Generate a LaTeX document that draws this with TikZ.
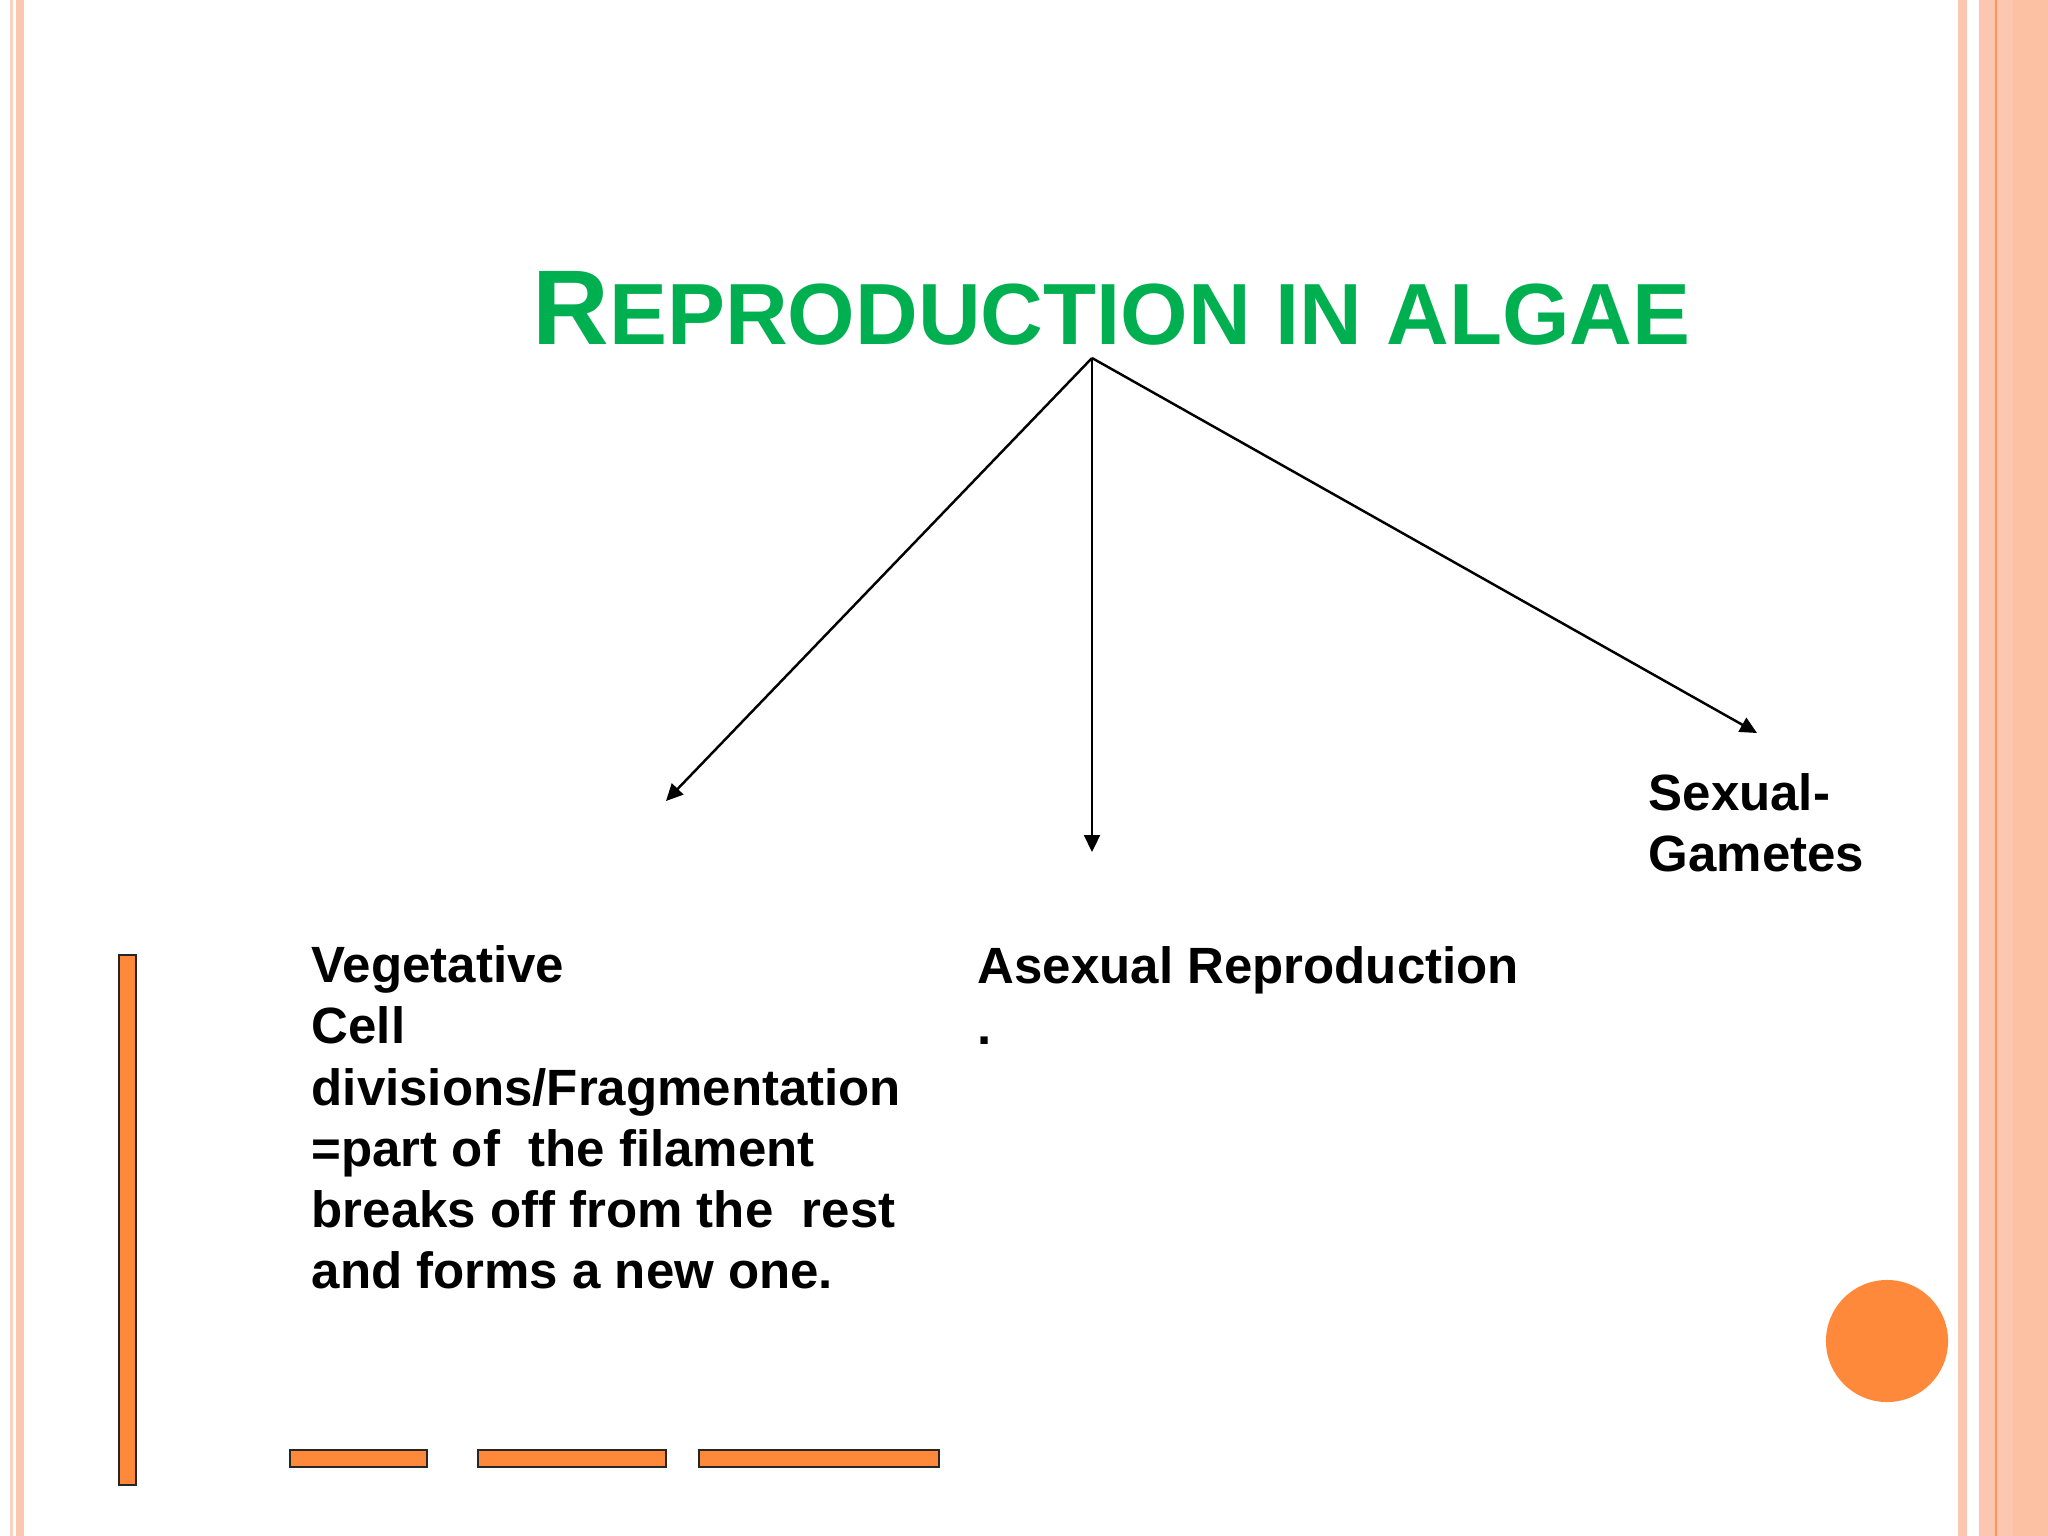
\documentclass[tikz,border=0pt]{standalone}
\usepackage{fontspec}
\setmainfont{Liberation Sans}
\usepackage{xcolor}
\usetikzlibrary{arrows.meta,positioning}
\definecolor{verde}{HTML}{00B050}
\definecolor{naranja}{HTML}{FF893A}
\definecolor{rosa}{HTML}{FCC6B0}
\definecolor{rosaclaro}{HTML}{F9D2C4}
\tikzset{
  barra/.style={fill=naranja,draw=black!85,line width=0.5pt},
  franja/.style={fill=rosa,draw=none},
  flecha/.style={-{Triangle[length=4.8pt,width=4.5pt]},line width=0.7pt},
  texto/.style={font=\fontsize{14.5}{17.4}\selectfont\bfseries,align=left,anchor=north west,inner sep=0pt},
  titulo/.style={font=\fontsize{24.7}{24.7}\selectfont\bfseries,text=verde,anchor=base west,inner sep=0pt}
}
\begin{document}
\begin{tikzpicture}[x=0.01cm,y=-0.01cm]
\useasboundingbox (0,0) rectangle (2048,1536);
\fill[white] (0,0) rectangle (2048,1536);
% bordes
\fill[rosaclaro] (10,0) rectangle (13,1536);
\fill[rosa] (16,0) rectangle (24,1536);
\fill[rosa] (1958,0) rectangle (1967,1536);
\fill[rosa] (1979,0) rectangle (2048,1536);
\fill[rosa!92!orange] (2013,0) rectangle (2048,1536);
\fill[naranja!80!rosa] (1995,0) rectangle (1997,1536);
% adornos
\draw[barra] (119,955) rectangle (136,1485);
\draw[barra] (290,1450) rectangle (427,1467);
\draw[barra] (478,1450) rectangle (666,1467);
\draw[barra] (699,1450) rectangle (939,1467);
\fill[naranja] (1887,1341) circle[radius=6.1mm];
% titulo y ramas
\node[titulo] (titulo) at (532,344) {{\fontsize{30.2}{30.2}\selectfont R}EPRODUCTION IN ALGAE};
\coordinate (raiz) at (1092,358);
\coordinate (pveg) at (666,801);
\coordinate (pasex) at (1092,852);
\coordinate (psex) at (1757,733);
\draw[flecha] (raiz) -- (pveg);
\draw[flecha] (raiz) -- (pasex);
\draw[flecha] (raiz) -- (psex);
\node[texto] (vegetativa) at (311,945) {Vegetative\\Cell\\divisions/Fragmentation\\=part of\ \ the filament\\breaks off from the\ \ rest\\and forms a new one.};
\node[texto] (asexual) at (977,946) {Asexual Reproduction\\.};
\node[texto] (sexual) at (1648,773) {Sexual-\\Gametes};
\end{tikzpicture}
\end{document}
